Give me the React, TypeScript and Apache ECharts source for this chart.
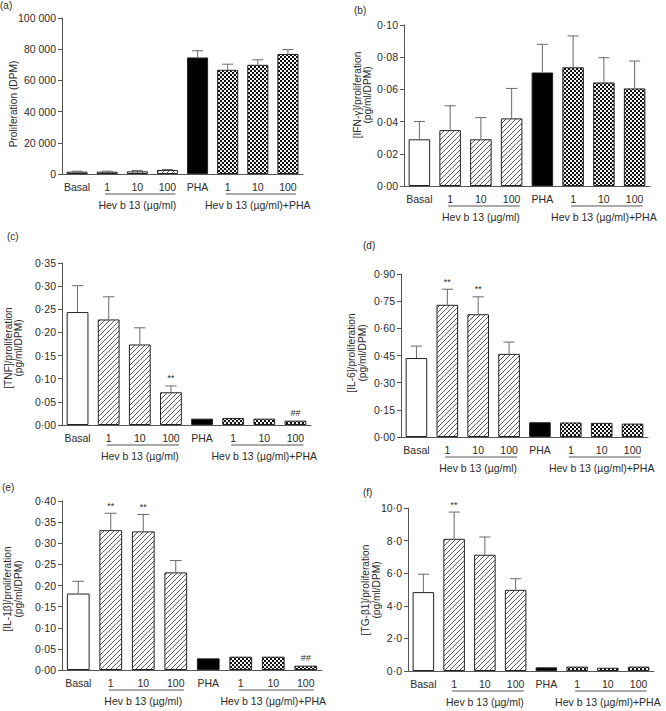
import React, { useEffect, useRef } from 'react';
import * as echarts from 'echarts';

// ---------- data ----------
const categories = ['Basal', '1', '10', '100', 'PHA', '1', '10', '100'];
const groupLabels = ['Hev b 13 (µg/ml)', 'Hev b 13 (µg/ml)+PHA'];
const fills = ['open', 'hatch', 'hatch', 'hatch', 'solid', 'check', 'check', 'check'];

const profMean = [1500, 1500, 1700, 2600, 74700, 66800, 70000, 76900];
const profErr = [300, 300, 500, 300, 4300, 3600, 3200, 2900];
const profSig = ['', '', '', '', '', '', '', ''];

const ifnMean = [0.029, 0.0347, 0.029, 0.042, 0.0705, 0.0737, 0.0643, 0.0606];
const ifnErr = [0.011, 0.0151, 0.0135, 0.0186, 0.0175, 0.0195, 0.0154, 0.017];
const ifnSig = ['', '', '', '', '', '', '', ''];

const tnfMean = [0.244, 0.228, 0.174, 0.0707, 0.0137, 0.015, 0.0137, 0.0094];
const tnfErr = [0.057, 0.049, 0.036, 0.0137, 0, 0, 0, 0];
const tnfSig = ['', '', '', '**', '', '', '', '##'];

const il6Mean = [0.436, 0.73, 0.678, 0.459, 0.0815, 0.08, 0.078, 0.074];
const il6Err = [0.066, 0.086, 0.096, 0.065, 0, 0, 0, 0];
const il6Sig = ['', '**', '**', '', '', '', '', ''];

const il1Mean = [0.181, 0.331, 0.328, 0.231, 0.0276, 0.0315, 0.0315, 0.0102];
const il1Err = [0.029, 0.04, 0.04, 0.028, 0, 0, 0, 0];
const il1Sig = ['', '**', '**', '', '', '', '', '##'];

const tgfMean = [4.84, 8.11, 7.13, 4.98, 0.225, 0.27, 0.2, 0.27];
const tgfErr = [1.1, 1.64, 1.09, 0.68, 0, 0, 0, 0];
const tgfSig = ['', '**', '', '', '', '', '', ''];

// ---------- styling ----------
const FONT = "'Liberation Sans', Arial, Helvetica, sans-serif";
const TXT = '#2b2b2b';
const AXIS = '#555';
const FS = 10.5;

const svgUrl = (s: string) => 'data:image/svg+xml;charset=utf-8,' + encodeURIComponent(s);
const hatchPattern: any = {
  image: svgUrl(
    "<svg xmlns='http://www.w3.org/2000/svg' width='5' height='5'><rect width='5' height='5' fill='white'/><path d='M-1,1 L1,-1 M0,5 L5,0 M4,6 L6,4' stroke='#333' stroke-width='0.8'/></svg>"
  ),
  repeat: 'repeat',
  imageWidth: 5,
  imageHeight: 5,
};
const checkPattern: any = {
  image: svgUrl(
    "<svg xmlns='http://www.w3.org/2000/svg' width='4' height='4'><rect width='4' height='4' fill='#f4f4f4'/><rect width='2' height='2' fill='#111'/><rect x='2' y='2' width='2' height='2' fill='#111'/></svg>"
  ),
  repeat: 'repeat',
  imageWidth: 4,
  imageHeight: 4,
};
const fillColor = (f: string): any =>
  f === 'open' ? '#ffffff' : f === 'hatch' ? hatchPattern : f === 'solid' ? '#000000' : checkPattern;

const thousands = (v: number) => (v === 0 ? '0' : String(v).replace(/\B(?=(\d{3})+(?!\d))/g, ' '));
const dec = (n: number) => (v: number) => v.toFixed(n).replace('.', '·');

const panels = [
  { letter: '(a)', lx: 0, ly: 0, grid: { left: 62, top: 18, width: 241, height: 156 }, max: 100000, interval: 20000, fmt: thousands,
    name: 'Proliferation (DPM)', nx: 13, ny: 104, mean: profMean, err: profErr, sig: profSig },
  { letter: '(b)', lx: 354, ly: 5, grid: { left: 404, top: 25, width: 246, height: 161 }, max: 0.1, interval: 0.02, fmt: dec(2),
    name: '[IFN-γ]/proliferation\n(pg/ml/DPM)', nx: 362.5, ny: 95, mean: ifnMean, err: ifnErr, sig: ifnSig },
  { letter: '(c)', lx: 7, ly: 231, grid: { left: 62, top: 263, width: 249, height: 162 }, max: 0.35, interval: 0.05, fmt: dec(2),
    name: '[TNF]/proliferation\n(pg/ml/DPM)', nx: 13.5, ny: 348, mean: tnfMean, err: tnfErr, sig: tnfSig },
  { letter: '(d)', lx: 363, ly: 240, grid: { left: 401, top: 274, width: 247, height: 163 }, max: 0.9, interval: 0.15, fmt: dec(2),
    name: '[IL-6]/proliferation\n(pg/ml/DPM)', nx: 357, ny: 353, mean: il6Mean, err: il6Err, sig: il6Sig },
  { letter: '(e)', lx: 2, ly: 482, grid: { left: 62, top: 501, width: 260, height: 169 }, max: 0.4, interval: 0.05, fmt: dec(2),
    name: '[IL-1β]/proliferation\n(pg/ml/DPM)', nx: 13, ny: 589, mean: il1Mean, err: il1Err, sig: il1Sig },
  { letter: '(f)', lx: 363, ly: 487, grid: { left: 408, top: 508, width: 246, height: 163 }, max: 10, interval: 2, fmt: dec(1),
    name: '[TG-β1]/proliferation\n(pg/ml/DPM)', nx: 371, ny: 590, mean: tgfMean, err: tgfErr, sig: tgfSig },
];

function buildOption() {
  const grid: any[] = [];
  const xAxis: any[] = [];
  const yAxis: any[] = [];
  const series: any[] = [];
  const title: any[] = [];
  const graphic: any[] = [];

  panels.forEach((p, k) => {
    grid.push({ ...p.grid, containLabel: false });
    title.push({
      text: p.letter, left: p.lx, top: p.ly, padding: 0,
      textStyle: { fontSize: 10, fontWeight: 'normal', color: TXT, fontFamily: FONT },
    });
    graphic.push({
      type: 'text', x: p.nx, y: p.ny, rotation: Math.PI / 2, silent: true,
      style: {
        text: p.name, align: 'center', verticalAlign: 'middle',
        fontSize: 10.2, lineHeight: 10.5, fontFamily: FONT, fill: TXT,
      },
    });
    xAxis.push({
      type: 'category', gridIndex: k, data: categories,
      axisLine: { show: true, lineStyle: { color: AXIS, width: 1 } },
      axisTick: { show: false },
      axisLabel: { interval: 0, margin: 7, fontSize: FS, color: TXT, fontFamily: FONT },
      splitLine: { show: false },
    });
    yAxis.push({
      type: 'value', gridIndex: k, min: 0, max: p.max, interval: p.interval,
      axisLine: { show: true, lineStyle: { color: AXIS, width: 1 } },
      axisTick: { show: true, length: 4, lineStyle: { color: AXIS } },
      axisLabel: { margin: 6, fontSize: FS, color: TXT, fontFamily: FONT, formatter: p.fmt },
      splitLine: { show: false },
    });

    series.push({
      type: 'bar', xAxisIndex: k, yAxisIndex: k, barWidth: '70%',
      data: p.mean.map((v, i) => ({
        value: v,
        itemStyle: { color: fillColor(fills[i]), borderColor: '#222', borderWidth: 1 },
      })),
      silent: true,
    });

    const sig = p.sig;
    series.push({
      type: 'custom', xAxisIndex: k, yAxisIndex: k, silent: true,
      data: p.mean.map((v, i) => [i, v, p.err[i]]),
      encode: { x: 0, y: 1 },
      z: 3,
      renderItem: (params: any, api: any) => {
        const x = api.value(0);
        const v = api.value(1);
        const e = api.value(2);
        const base = api.coord([x, v]);
        const top = api.coord([x, v + e]);
        const bw = api.size([1, 0])[0] * 0.7;
        const half = bw * 0.26;
        const children: any[] = [];
        if (e > 0) {
          children.push({
            type: 'line', shape: { x1: base[0], y1: base[1], x2: top[0], y2: top[1] },
            style: { stroke: '#6a6a6a', lineWidth: 1 },
          });
          children.push({
            type: 'line', shape: { x1: top[0] - half, y1: top[1], x2: top[0] + half, y2: top[1] },
            style: { stroke: '#6a6a6a', lineWidth: 1 },
          });
        }
        const s = sig[params.dataIndex];
        if (s) {
          children.push({
            type: 'text',
            style: {
              text: s, x: top[0], y: top[1] - 3, align: 'center', verticalAlign: 'bottom',
              fontSize: 9, fontFamily: FONT, fill: TXT,
            },
          });
        }
        return { type: 'group', children };
      },
    });

    series.push({
      type: 'custom', xAxisIndex: k, yAxisIndex: k, silent: true,
      data: [[1, 3, 2, 0], [5, 7, 6, 0]],
      encode: { x: [0, 1, 2], y: 3 },
      renderItem: (params: any, api: any) => {
        const s = api.coord([api.value(0), 0]);
        const e = api.coord([api.value(1), 0]);
        const m = api.coord([api.value(2), 0]);
        const y = s[1];
        return {
          type: 'group',
          children: [
            {
              type: 'line', shape: { x1: s[0] - 2, y1: y + 20, x2: e[0] + 8, y2: y + 20 },
              style: { stroke: AXIS, lineWidth: 1 },
            },
            {
              type: 'text',
              style: {
                text: groupLabels[params.dataIndex], x: m[0], y: y + 30.5, align: 'center', verticalAlign: 'middle',
                fontSize: FS, fontFamily: FONT, fill: TXT,
              },
            },
          ],
        };
      },
    });
  });

  return {
    animation: false,
    backgroundColor: '#ffffff',
    title, grid, xAxis, yAxis, series, graphic,
  };
}

export default function App() {
  const ref = useRef<HTMLDivElement>(null);
  useEffect(() => {
    if (!ref.current) return;
    const chart = echarts.init(ref.current, undefined, { renderer: 'svg' });
    chart.setOption(buildOption() as any);
    return () => chart.dispose();
  }, []);
  return (
    <div
      ref={ref}
      style={{ position: 'absolute', left: 0, top: 0, width: 666, height: 711, background: '#fff' }}
    />
  );
}
